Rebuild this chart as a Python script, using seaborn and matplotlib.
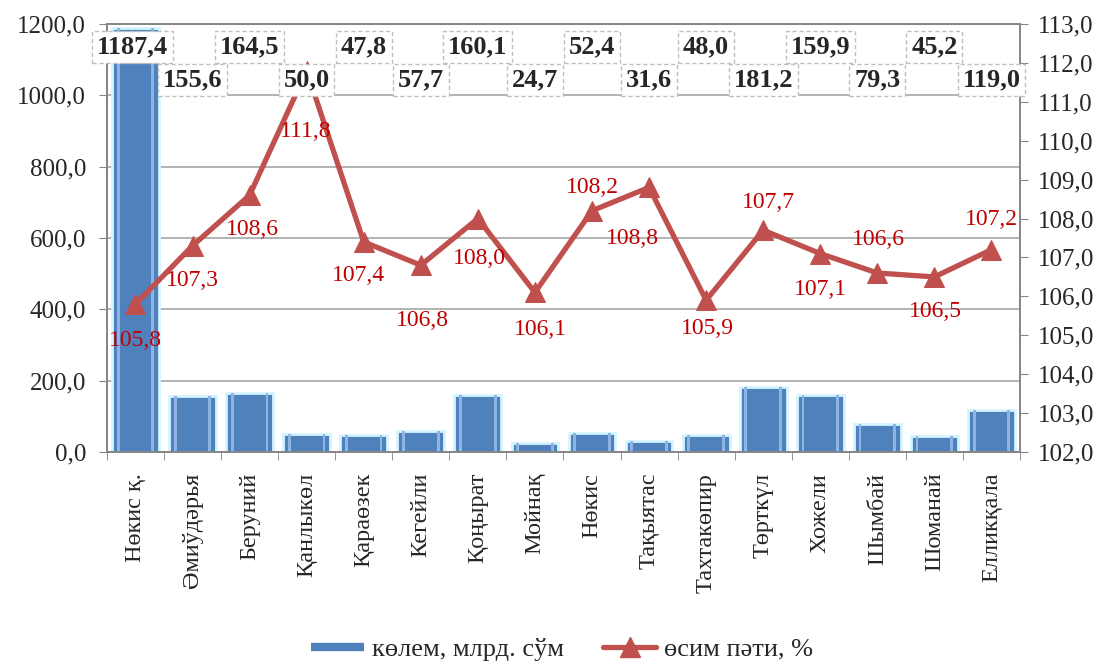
import matplotlib
matplotlib.use("Agg")
import matplotlib.pyplot as plt
import matplotlib.ticker as mticker
from matplotlib.lines import Line2D
import numpy as np
import pandas as pd
import seaborn as sns

# data
districts = ["Нөкис қ.", "Әмиўдәрья", "Беруний", "Қанлыкөл", "Қараөзек", "Кегейли",
             "Қоңырат", "Мойнақ", "Нөкис", "Тақыятас", "Тахтакөпир", "Төрткүл",
             "Хожели", "Шымбай", "Шоманай", "Елликқала"]
volume = [1187.4, 155.6, 164.5, 50.0, 47.8, 57.7, 160.1, 24.7, 52.4, 31.6, 48.0,
          181.2, 159.9, 79.3, 45.2, 119.0]
growth = [105.8, 107.3, 108.6, 111.8, 107.4, 106.8, 108.0, 106.1, 108.2, 108.8,
          105.9, 107.7, 107.1, 106.6, 106.5, 107.2]
bar_label = "көлем, млрд. сўм"
line_label = "өсим пәти, %"

# label offsets for the red values (points, x/y)
growth_offsets = [(0, -26), (0, -25), (2, -25), (-1, -44), (-4, -24), (1, -40),
                  (1, -29), (4, -27), (0, 17), (-12, -37), (1, -20), (4, 20),
                  (0, -26), (1, 24), (1, -25), (0, 22)]


def comma(v, _=None):
    return f"{v:.1f}".replace(".", ",")


df = pd.DataFrame({"district": districts, "volume": volume, "growth": growth})

sns.set_style("white")
plt.rcParams["font.family"] = ["Liberation Serif", "DejaVu Serif"]

fig = plt.figure(figsize=(11.06, 6.61), dpi=100)
ax = fig.add_axes([0.0967, 0.3162, 0.8255, 0.6475])

bar_blue = "#4F81BD"
line_red = "#C0504D"
grid_grey = "#A6A6A6"

sns.barplot(data=df, x="district", y="volume", color=bar_blue, saturation=1,
            width=0.82, edgecolor="#D4F4FF", linewidth=2.0, ax=ax, zorder=2)
# light inner stripes to hint at the bevelled bar look
for p in list(ax.patches):
    x0, w, h = p.get_x(), p.get_width(), p.get_height()
    ax.bar(x0 + w * 0.10, h, width=w * 0.06, align="edge", color="#8DB4E2",
           linewidth=0, zorder=3)
    ax.bar(x0 + w * 0.84, h, width=w * 0.06, align="edge", color="#8DB4E2",
           linewidth=0, zorder=3)

ax.set_ylim(0, 1200)
ax.set_xlim(-0.5, len(districts) - 0.5)
ax.set_yticks(np.arange(0, 1201, 200))
ax.yaxis.set_major_formatter(mticker.FuncFormatter(comma))
ax.grid(axis="y", color=grid_grey, linewidth=1.2, zorder=0)
ax.set_axisbelow(True)
ax.set_xlabel("")
ax.set_ylabel("")
ax.tick_params(axis="y", labelsize=18, length=6, color="#868686", direction="out",
               left=True, pad=9)
ax.set_xticks(range(len(districts)))
ax.set_xticklabels(districts, rotation=90, va="top")
ax.tick_params(axis="x", which="major", length=0, labelsize=17.5, pad=15)
ax.set_xticks(np.arange(-0.5, len(districts), 1), minor=True)
ax.tick_params(axis="x", which="minor", length=6, color="#868686", bottom=True)
for s in ax.spines.values():
    s.set_color("#868686")
    s.set_linewidth(1.3)

ax2 = ax.twinx()
sns.lineplot(x=np.arange(len(districts)), y=growth, ax=ax2, color=line_red,
             linewidth=3.8, marker="^", markersize=14, markeredgecolor=line_red, zorder=5)
ax2.set_ylim(102, 113)
ax2.set_yticks(np.arange(102, 113.1, 1))
ax2.yaxis.set_major_formatter(mticker.FuncFormatter(comma))
ax2.tick_params(axis="y", labelsize=18, length=6, color="#868686", direction="out",
                right=True, pad=7)
ax2.grid(False)
for s in ax2.spines.values():
    s.set_color("#868686")
    s.set_linewidth(1.3)

for i, (g, off) in enumerate(zip(growth, growth_offsets)):
    ax2.annotate(comma(g), (i, g), xytext=off, textcoords="offset points",
                 ha="center", va="center", fontsize=17, color="#C00000", zorder=6)

# value boxes on top, alternating rows (drawn on ax2 so they sit above the line)
box = dict(boxstyle="square,pad=0.18", facecolor="white", edgecolor="#BFBFBF",
           linestyle=(0, (3, 2)), linewidth=1.0)
for i, v in enumerate(volume):
    y = 1135 if i % 2 == 0 else 1043
    xpos = i - 0.05 if i == 0 else i
    ax2.text(xpos, y, comma(v), transform=ax.transData, ha="center", va="center",
             fontsize=19, fontweight="bold", bbox=box, zorder=8)

handles = [Line2D([0], [0], color=bar_blue, linewidth=6, solid_capstyle="butt"),
           Line2D([0], [0], color=line_red, linewidth=3.8, marker="^", markersize=14)]
fig.legend(handles, [bar_label, line_label], loc="center", bbox_to_anchor=(0.508, 0.018),
           ncol=2, frameon=False, fontsize=19, handlelength=2.0, columnspacing=1.5,
           handletextpad=0.3)

fig.savefig("out.png", dpi=100)
